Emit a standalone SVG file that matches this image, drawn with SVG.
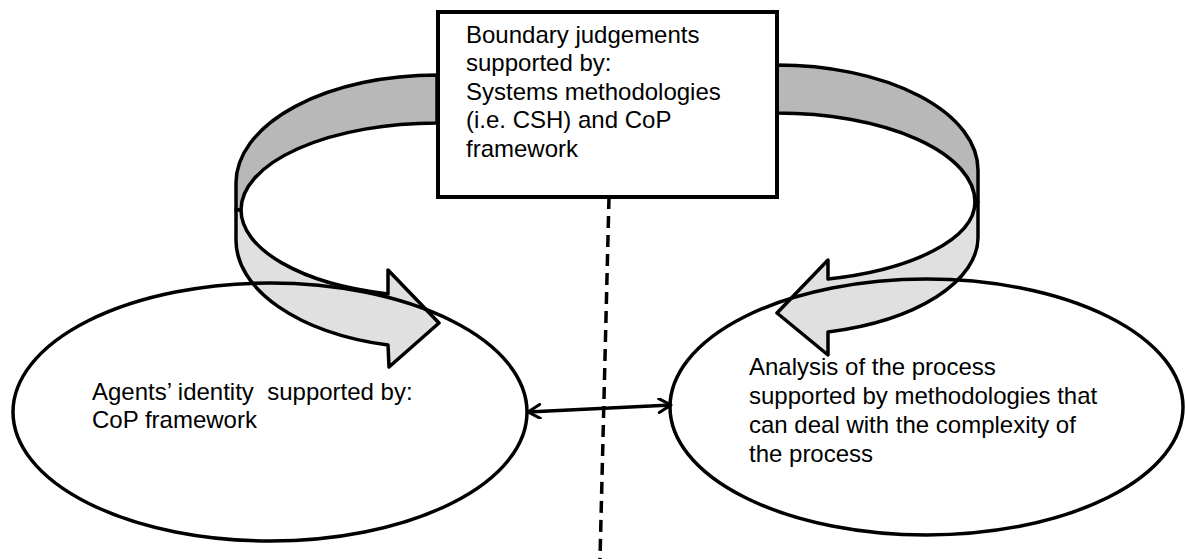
<svg xmlns="http://www.w3.org/2000/svg" width="1185" height="559" viewBox="0 0 1185 559">
<style>
.t{font-family:"Liberation Sans",Arial,sans-serif;font-size:24px;fill:#000}
.band{stroke:#000;stroke-width:3.5;stroke-linejoin:round}
.dark{fill:#b8b8b8}
.light{fill:#e0e0e0}
.node{fill:none;stroke:#000;stroke-width:3.5}
</style>
<defs>
<marker id="ah" viewBox="0 0 16 16" refX="14" refY="8" markerWidth="16" markerHeight="16" markerUnits="userSpaceOnUse" orient="auto-start-reverse">
<path d="M2,1 L14,8 L2,15" fill="none" stroke="#000" stroke-width="3" stroke-linecap="round" stroke-linejoin="round"/>
</marker>
</defs>
<g id="arrow-left">
<path class="band dark" d="M437,75 A201 108 0 0 0 236,183 L236,210 L241,210 A196 87 0 0 1 437,123 Z"/>
<path class="band light" d="M241,210 A196 87 0 0 0 388,294 L388,270 L439,323 L389,367 L388,345 A201 108 0 0 1 236,240 L236,210 Z"/>
</g>
<g id="arrow-right">
<path class="band dark" d="M777,65 A201 105 0 0 1 978,170 L978,202 L975,202 A198 89 0 0 0 777,113 Z"/>
<path class="band light" d="M975,202 A198 80 0 0 1 828,279 L828,260 L777,313 L828,355 L828,332 A201 98 0 0 0 978,237 L978,202 Z"/>
</g>
<g id="connectors">
<line x1="609" y1="197" x2="600" y2="559" stroke="#000" stroke-width="3.5" stroke-dasharray="12 7"/>
<line x1="528" y1="412" x2="671" y2="405" stroke="#000" stroke-width="3.5" marker-start="url(#ah)" marker-end="url(#ah)"/>
</g>
<g id="box-boundary">
<rect x="438" y="12" width="339" height="185" fill="#fff" stroke="#000" stroke-width="4"/>
<text class="t" x="466" y="43">Boundary judgements</text>
<text class="t" x="466" y="71">supported by:</text>
<text class="t" x="466" y="100">Systems methodologies</text>
<text class="t" x="466" y="128">(i.e. CSH) and CoP</text>
<text class="t" x="466" y="157">framework</text>
</g>
<g id="ellipse-agents">
<ellipse class="node" cx="270" cy="412" rx="257" ry="129"/>
<text class="t" x="92" y="400" xml:space="preserve">Agents’ identity  supported by:</text>
<text class="t" x="92" y="428">CoP framework</text>
</g>
<g id="ellipse-analysis">
<ellipse class="node" cx="926.5" cy="407" rx="256.5" ry="128"/>
<text class="t" x="749" y="375">Analysis of the process</text>
<text class="t" x="749" y="404">supported by methodologies that</text>
<text class="t" x="749" y="433">can deal with the complexity of</text>
<text class="t" x="749" y="462">the process</text>
</g>
</svg>
